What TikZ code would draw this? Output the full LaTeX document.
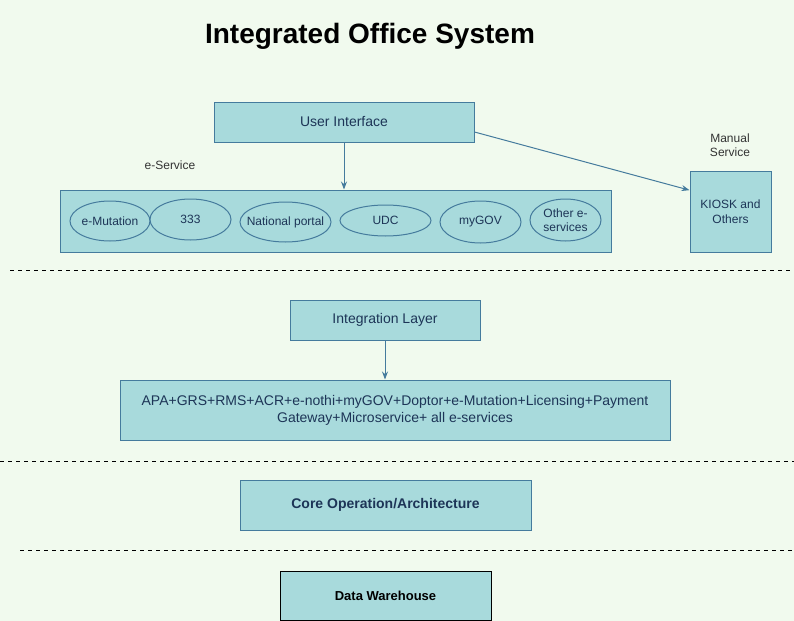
\documentclass[tikz,border=0pt]{standalone}
\usepackage{fontspec}
\setmainfont{Liberation Sans}
\usetikzlibrary{positioning}
\usetikzlibrary{arrows.meta,shapes.geometric}
\definecolor{bgcol}{HTML}{F1FAEE}
\definecolor{boxfill}{HTML}{A8DADC}
\definecolor{boxline}{HTML}{457B9D}
\definecolor{boxtext}{HTML}{1D3557}
\definecolor{labeltext}{HTML}{333333}
\tikzset{
    office/.style={x=0.75pt,y=-0.75pt,line width=0.75pt,
                     >={Stealth[length=6pt,width=4.5pt]}},
    layer/.style={rectangle,draw=boxline,fill=boxfill,text=boxtext,
                     inner sep=0pt,align=center,
                     font=\fontsize{10.5}{12.75}\selectfont},
    service/.style={ellipse,draw=boxline,fill=boxfill,inner sep=0pt},
    svctext/.style={text=boxtext,align=center,inner sep=0pt,
                     font=\fontsize{9}{10.5}\selectfont},
    note/.style={text=labeltext,align=center,
                     font=\fontsize{9}{10.5}\selectfont},
    link/.style={->,draw=boxline},
    sep/.style={draw=black,dash pattern=on 3pt off 3pt},
    }
\begin{document}
\begin{tikzpicture}[office]
    \fill[bgcol] (0,0) rectangle (794,621);
    \useasboundingbox (0,0) rectangle (794,621);

    \node (title) at (370,36) {\fontsize{21}{25}\selectfont\bfseries Integrated Office System};

    % top layer
    \node[layer,minimum width=195pt,minimum height=30pt] (ui) at (344,122) {User Interface};
    \node[note] (esvclabel) at (170,165) {e-Service};
    \node[layer,minimum width=413.25pt,minimum height=46.5pt] (esvc) at (335.5,221) {};
    \node[service,minimum width=60pt,minimum height=30pt,
          label={[svctext]center:e-Mutation}] (emut) at (110,221) {};
    \node[service,minimum width=60.75pt,minimum height=30.75pt,
          label={[svctext]center:333}] (n333) at (190.5,219.5) {};
    \node[service,minimum width=68.25pt,minimum height=30pt,
          label={[svctext]center:National portal}] (natp) at (285.5,222) {};
    \node[service,minimum width=68.25pt,minimum height=23.25pt,
          label={[svctext]center:UDC}] (udc) at (385.5,220.5) {};
    \node[service,minimum width=60.75pt,minimum height=31.5pt,
          label={[svctext]center:myGOV}] (mygov) at (480.5,222) {};
    \node[service,minimum width=53.25pt,minimum height=31.5pt,
          label={[svctext]center:Other e-\\services}] (other) at (565.5,220) {};
    \node[note] (manual) at (730,145) {Manual\\Service};
    \node[layer,minimum width=60.75pt,minimum height=60.75pt,
          font=\fontsize{9}{11}\selectfont] (kiosk) at (730.5,211.5) {KIOSK and\\Others};

    \path[link] (ui.south) -- (ui.south |- esvc.north);
    \path[link] ([yshift=-7.5pt]ui.east) -- ([yshift=16pt]kiosk.west);

    \draw[sep] (10,270) -- (794,270);

    % integration
    \node[layer,minimum width=142.5pt,minimum height=30pt] (integ) at (385,320) {Integration Layer};
    \node[layer,minimum width=412.5pt,minimum height=45pt] (apa) at (395,410)
        {APA+GRS+RMS+ACR+e-nothi+myGOV+Doptor+e-Mutation+Licensing+Payment\\Gateway+Microservice+ all e-services};
    \path[link] (integ.south) -- (integ.south |- apa.north);

    \draw[sep] (0,461) -- (794,461);

    \node[layer,minimum width=218.25pt,minimum height=37.5pt,font=\fontsize{10.5}{12.75}\selectfont\bfseries] (core) at (385.5,505) {Core Operation/Architecture};

    \draw[sep] (20,550) -- (794,550);

    \node[layer,draw=black,text=black,minimum width=158.25pt,minimum height=36.75pt,
          font=\fontsize{9.75}{12}\selectfont\bfseries] (dw) at (385.5,595.5) {Data Warehouse};
\end{tikzpicture}
\end{document}
